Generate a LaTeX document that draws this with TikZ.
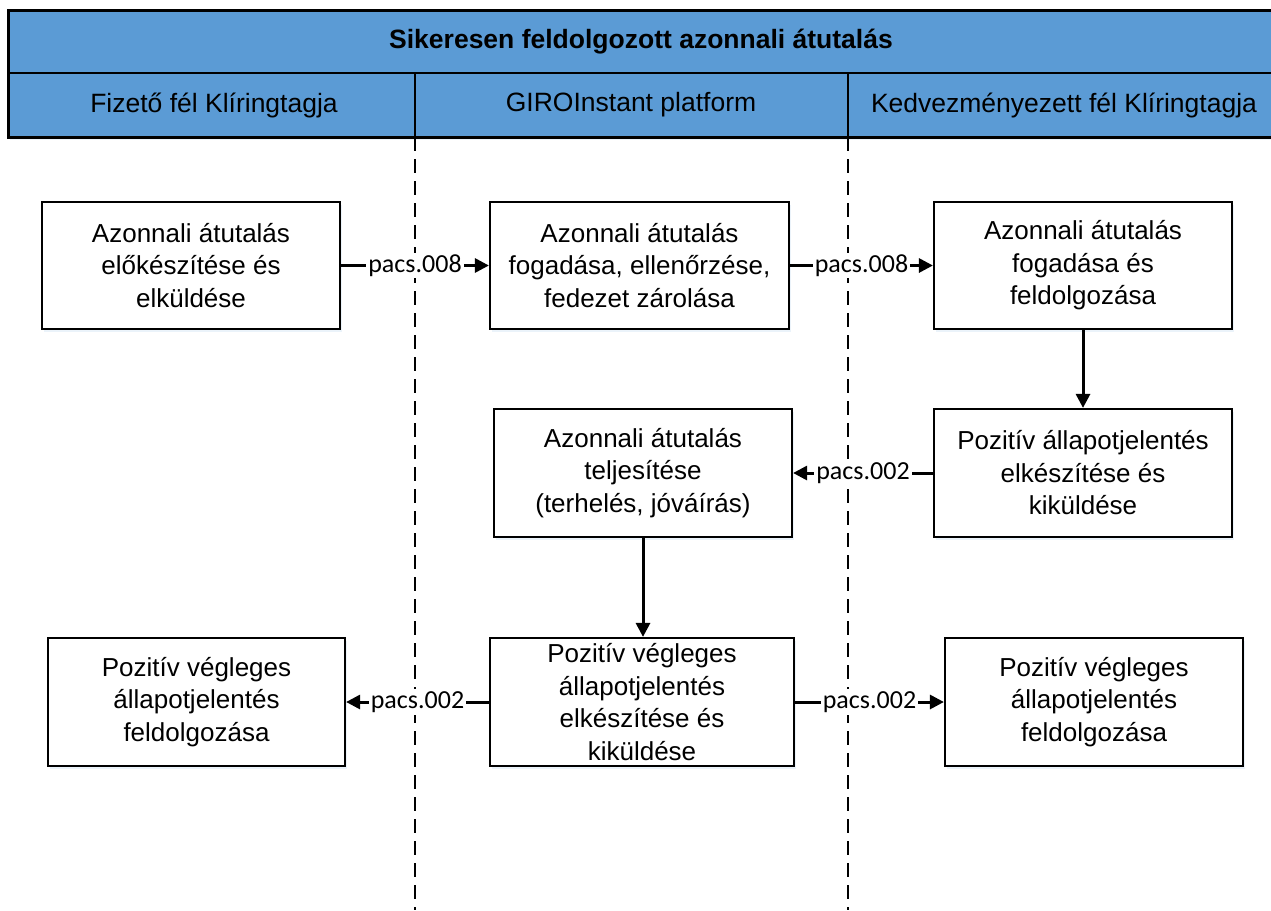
\documentclass[tikz,border=0pt]{standalone}
\usepackage{fontspec}
\setmainfont{Liberation Sans}
\newfontfamily\calib{Carlito}
\usetikzlibrary{arrows.meta,shadows}
\definecolor{hdrblue}{HTML}{5B9BD5}
\begin{document}
\begin{tikzpicture}[x=1pt,y=-1pt,
  box/.style={draw=black,line width=2.2pt,fill=white,align=center,inner sep=0pt,
    font=\fontsize{26}{32.5}\selectfont,
    drop shadow={shadow xshift=2pt,shadow yshift=-3pt,fill=hdrblue!35,opacity=0.35}},
  conn/.style={line width=3pt,-{Triangle[length=14pt,width=14pt]}},
  lbl/.style={fill=white,inner sep=2pt,font=\calib\fontsize{26}{30}\selectfont},
  lanetxt/.style={font=\fontsize{26.5}{30}\selectfont},
  sep/.style={dashed,line width=1.6pt,dash pattern=on 14pt off 8pt}]
\useasboundingbox (0,0) rectangle (1271,910);
% header
\fill[hdrblue,drop shadow={shadow xshift=2pt,shadow yshift=-3pt,fill=hdrblue!35,opacity=0.35}] (8,10) rectangle (1278,137);
\draw[line width=3pt] (8,10) rectangle (1278,137);
\draw[line width=2.5pt] (8,73) -- (1278,73);
\draw[line width=2.5pt] (415,73) -- (415,137);
\draw[line width=2.5pt] (848,73) -- (848,137);
\node[font=\bfseries\fontsize{26.5}{30}\selectfont] (title) at (641,42) {Sikeresen feldolgozott azonnali átutalás};
\node[lanetxt] (l1) at (214,105) {Fizető fél Klíringtagja};
\node[lanetxt] (l2) at (631,105) {GIROInstant platform};
\node[lanetxt] (l3) at (1064,105) {Kedvezményezett fél Klíringtagja};
% lane separators
\coordinate (s1t) at (415,137); \coordinate (s1b) at (415,910);
\coordinate (s2t) at (848,137); \coordinate (s2b) at (848,910);
\draw[sep] (s1t) -- (s1b);
\draw[sep] (s2t) -- (s2b);
% boxes
\node[box,minimum width=298pt,minimum height=127pt] (b1) at (191,265.5) {Azonnali átutalás\\előkészítése és\\elküldése};
\node[box,minimum width=299pt,minimum height=127pt] (b2) at (639.5,265.5) {Azonnali átutalás\\fogadása, ellenőrzése,\\fedezet zárolása};
\node[box,minimum width=298pt,minimum height=127pt] (b3) at (1083,265.5) {Azonnali átutalás\\fogadása és\\feldolgozása};
\node[box,minimum width=298pt,minimum height=128pt] (b4) at (1083,473) {Pozitív állapotjelentés\\elkészítése és\\kiküldése};
\node[box,minimum width=298pt,minimum height=128pt] (b5) at (643,473) {Azonnali átutalás\\teljesítése\\(terhelés, jóváírás)};
\node[box,minimum width=304pt,minimum height=128pt] (b6) at (642,702) {Pozitív végleges\\állapotjelentés\\elkészítése és\\kiküldése};
\node[box,minimum width=297pt,minimum height=128pt] (b7) at (196.5,702) {Pozitív végleges\\állapotjelentés\\feldolgozása};
\node[box,minimum width=298pt,minimum height=128pt] (b8) at (1094,702) {Pozitív végleges\\állapotjelentés\\feldolgozása};
% connectors
\draw[conn] (b1.east) -- node[lbl] (m1) {pacs.008} (b2.west);
\draw[conn] (b2.east) -- node[lbl] (m2) {pacs.008} (b3.west);
\draw[conn] (b3.south) -- (b4.north);
\draw[conn] (b4.west) -- node[lbl] (m3) {pacs.002} (b5.east);
\draw[conn] (b5.south) -- (b5.south |- b6.north);
\draw[conn] (b6.west) -- node[lbl] (m4) {pacs.002} (b7.east);
\draw[conn] (b6.east) -- node[lbl] (m5) {pacs.002} (b8.west);
\end{tikzpicture}
\end{document}
